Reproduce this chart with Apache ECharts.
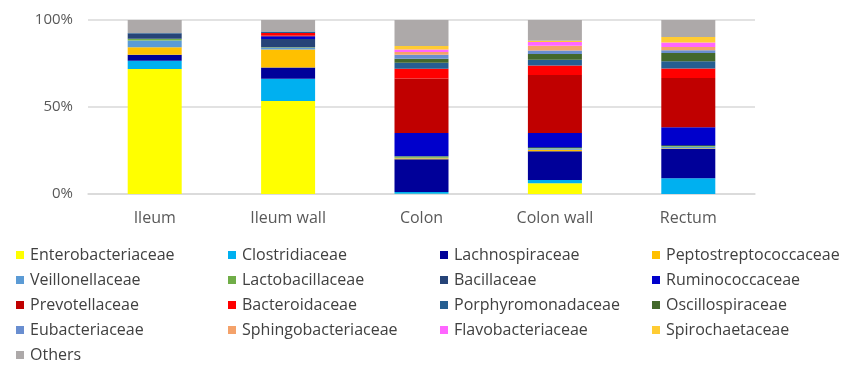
<!DOCTYPE html>
<html>
<head>
<meta charset="utf-8">
<script src="https://cdn.jsdelivr.net/npm/echarts@6/dist/echarts.min.js"></script>
<style>html,body{margin:0;padding:0;background:#fff;}#c{width:854px;height:375px;}</style>
</head>
<body>
<div id="c"></div>
<script>
const categories = ['Ileum', 'Ileum wall', 'Colon', 'Colon wall', 'Rectum'];
const yTicks = [0, 50, 100];

const Enterobacteriaceae   = [71.8, 53.5, 0.2, 6.2, 0];
const Clostridiaceae       = [4.8, 12.7, 1.0, 1.9, 9.1];
const Lachnospiraceae      = [3.5, 6.5, 18.7, 16.4, 16.9];
const Peptostreptococcaceae= [4.2, 10.4, 0.6, 1.0, 0.3];
const Veillonellaceae      = [3.9, 1.0, 0.4, 0.6, 0.8];
const Lactobacillaceae     = [1.0, 0.2, 0.6, 0.3, 0.5];
const Bacillaceae          = [3.1, 4.8, 0.4, 0.6, 0.6];
const Ruminococcaceae      = [0, 1.5, 13.1, 8.1, 10.2];
const Prevotellaceae       = [0, 0.5, 31.4, 33.3, 28.3];
const Bacteroidaceae       = [0, 1.5, 5.6, 5.4, 5.4];
const Porphyromonadaceae   = [0.3, 0.8, 3.5, 3.3, 4.2];
const Oscillospiraceae     = [0, 0, 2.3, 3.3, 4.8];
const Eubacteriaceae       = [0, 0, 2.3, 2.1, 1.5];
const Sphingobacteriaceae  = [0, 0, 1.5, 2.7, 1.9];
const Flavobacteriaceae    = [0, 0, 1.5, 2.1, 2.5];
const Spirochaetaceae      = [0, 0, 1.9, 0.8, 3.3];
const Others               = [7.4, 6.6, 15.0, 11.9, 9.7];

const seriesNames = ['Enterobacteriaceae','Clostridiaceae','Lachnospiraceae','Peptostreptococcaceae',
  'Veillonellaceae','Lactobacillaceae','Bacillaceae','Ruminococcaceae','Prevotellaceae','Bacteroidaceae',
  'Porphyromonadaceae','Oscillospiraceae','Eubacteriaceae','Sphingobacteriaceae','Flavobacteriaceae',
  'Spirochaetaceae','Others'];
const seriesValues = [Enterobacteriaceae, Clostridiaceae, Lachnospiraceae, Peptostreptococcaceae,
  Veillonellaceae, Lactobacillaceae, Bacillaceae, Ruminococcaceae, Prevotellaceae, Bacteroidaceae,
  Porphyromonadaceae, Oscillospiraceae, Eubacteriaceae, Sphingobacteriaceae, Flavobacteriaceae,
  Spirochaetaceae, Others];
const colors = ['#FFFF00','#00B0F0','#000099','#FFC000','#5B9BD5','#70AD47','#264478','#0000CC',
  '#C00000','#FF0000','#255E91','#43682B','#698ED0','#F4A26A','#FF66FF','#FFCC33','#ADA9A9'];

const legendCols = [
  ['Enterobacteriaceae','Veillonellaceae','Prevotellaceae','Eubacteriaceae','Others'],
  ['Clostridiaceae','Lactobacillaceae','Bacteroidaceae','Sphingobacteriaceae'],
  ['Lachnospiraceae','Bacillaceae','Porphyromonadaceae','Flavobacteriaceae'],
  ['Peptostreptococcaceae','Ruminococcaceae','Oscillospiraceae','Spirochaetaceae']
];
const legendLefts = [16, 228, 440, 652];

const font = 'Open Sans';
const chart = echarts.init(document.getElementById('c'), null, {renderer: 'canvas'});
chart.setOption({
  animation: false,
  backgroundColor: '#fff',
  grid: {left: 88, right: 99, top: 20, bottom: 181, containLabel: false},
  legend: legendCols.map((col, i) => ({
    orient: 'vertical',
    left: legendLefts[i],
    top: 247,
    itemWidth: 8,
    itemHeight: 8,
    itemGap: 9,
    icon: 'rect',
    padding: 0,
    selectedMode: false,
    data: col,
    textStyle: {fontFamily: font, fontSize: 16, color: '#404040', lineHeight: 16, padding: [0,0,0,1]}
  })),
  xAxis: {
    type: 'category',
    data: categories,
    axisTick: {show: false},
    axisLine: {show: true, lineStyle: {color: '#d9d9d9', width: 1.5}},
    axisLabel: {fontFamily: font, fontSize: 16, color: '#595959', margin: 16}
  },
  yAxis: {
    type: 'value',
    min: yTicks[0], max: yTicks[yTicks.length - 1], interval: 50,
    axisLine: {show: false},
    axisTick: {show: false},
    splitLine: {lineStyle: {color: '#d9d9d9', width: 1.5}},
    axisLabel: {fontFamily: font, fontSize: 15, color: '#595959', margin: 15, formatter: '{value}%'}
  },
  series: seriesNames.map((n, i) => ({
    name: n,
    type: 'bar',
    stack: 'total',
    barWidth: 54,
    itemStyle: {color: colors[i]},
    data: seriesValues[i]
  }))
});
</script>
</body>
</html>
